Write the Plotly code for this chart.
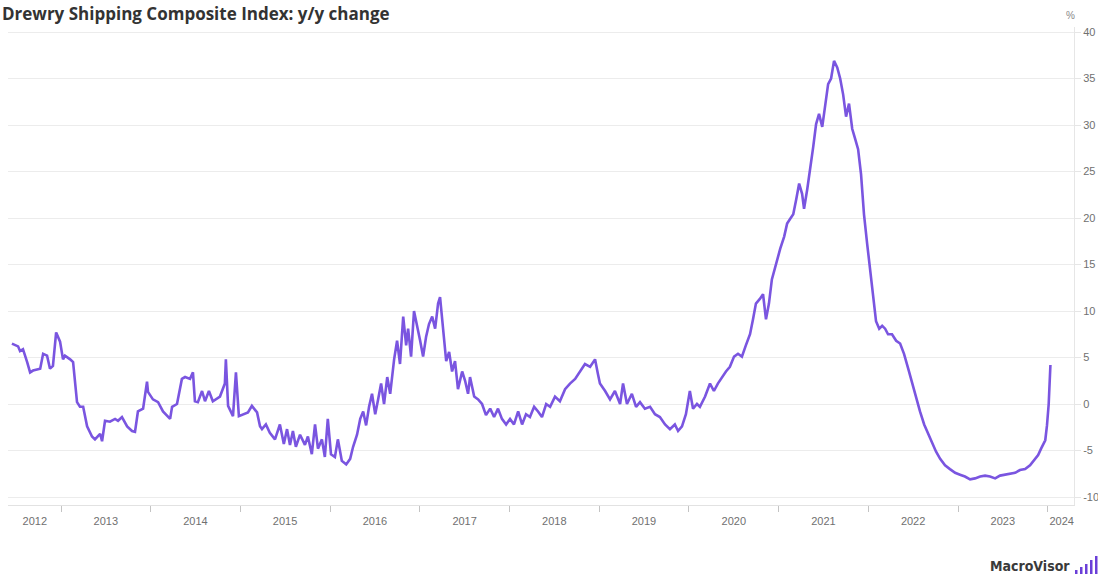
import plotly.graph_objects as go

# Drewry shipping composite index, year-over-year change (%)
dates = [
    "2012-06-15", "2012-07-10", "2012-07-18", "2012-07-30", "2012-08-16", "2012-08-28",
    "2012-09-09", "2012-10-08", "2012-10-20", "2012-11-05", "2012-11-17", "2012-11-29",
    "2012-12-12", "2012-12-28", "2013-01-09", "2013-01-17", "2013-02-07", "2013-02-19",
    "2013-03-07", "2013-03-19", "2013-04-01", "2013-04-17", "2013-05-07", "2013-05-19",
    "2013-06-09", "2013-06-17", "2013-06-29", "2013-07-19", "2013-08-09", "2013-08-21",
    "2013-09-06", "2013-09-27", "2013-10-17", "2013-10-29", "2013-11-10", "2013-12-01",
    "2013-12-17", "2013-12-21", "2014-01-10", "2014-01-31", "2014-02-20", "2014-03-21",
    "2014-03-29", "2014-04-18", "2014-05-08", "2014-05-21", "2014-06-10", "2014-06-22",
    "2014-06-30", "2014-07-12", "2014-07-29", "2014-08-10", "2014-08-26", "2014-09-11",
    "2014-10-10", "2014-10-30", "2014-11-03", "2014-11-12", "2014-12-02", "2014-12-14",
    "2014-12-26", "2015-01-12", "2015-02-01", "2015-02-17", "2015-03-10", "2015-03-22",
    "2015-03-30", "2015-04-15", "2015-05-01", "2015-05-22", "2015-06-11", "2015-06-27",
    "2015-07-10", "2015-07-22", "2015-08-03", "2015-08-15", "2015-09-01", "2015-09-21",
    "2015-10-03", "2015-10-19", "2015-11-01", "2015-11-13", "2015-11-29", "2015-12-11",
    "2015-12-23", "2016-01-05", "2016-01-21", "2016-02-02", "2016-02-18", "2016-03-07",
    "2016-03-23", "2016-04-04", "2016-04-20", "2016-05-03", "2016-05-15", "2016-05-27",
    "2016-06-08", "2016-06-20", "2016-07-03", "2016-07-15", "2016-07-27", "2016-08-08",
    "2016-08-21", "2016-09-02", "2016-09-18", "2016-09-30", "2016-10-12", "2016-10-25",
    "2016-11-06", "2016-11-14", "2016-11-26", "2016-12-08", "2016-12-21", "2017-01-02",
    "2017-01-14", "2017-01-26", "2017-02-07", "2017-02-20", "2017-03-04", "2017-03-16",
    "2017-03-24", "2017-04-05", "2017-04-18", "2017-04-30", "2017-05-12", "2017-05-24",
    "2017-06-05", "2017-06-22", "2017-07-04", "2017-07-16", "2017-07-24", "2017-08-10",
    "2017-08-26", "2017-09-11", "2017-09-27", "2017-10-14", "2017-10-30", "2017-11-15",
    "2017-12-01", "2017-12-18", "2018-01-03", "2018-01-19", "2018-02-05", "2018-02-21",
    "2018-03-09", "2018-03-25", "2018-04-11", "2018-04-27", "2018-05-13", "2018-05-30",
    "2018-06-15", "2018-07-05", "2018-07-25", "2018-08-15", "2018-09-04", "2018-09-25",
    "2018-10-15", "2018-11-04", "2018-11-25", "2018-12-15", "2018-12-27", "2019-01-04",
    "2019-01-25", "2019-02-14", "2019-03-06", "2019-03-27", "2019-04-08", "2019-04-24",
    "2019-05-14", "2019-05-31", "2019-06-16", "2019-07-06", "2019-07-27", "2019-08-16",
    "2019-09-05", "2019-09-26", "2019-10-16", "2019-11-05", "2019-11-18", "2019-12-04",
    "2019-12-20", "2020-01-05", "2020-01-18", "2020-02-03", "2020-02-15", "2020-03-07",
    "2020-03-27", "2020-04-12", "2020-04-28", "2020-05-15", "2020-05-31", "2020-06-16",
    "2020-07-03", "2020-07-19", "2020-08-04", "2020-08-20", "2020-09-06", "2020-09-18",
    "2020-09-30", "2020-10-16", "2020-10-29", "2020-11-10", "2020-11-22", "2020-12-04",
    "2020-12-20", "2021-01-07", "2021-01-23", "2021-02-04", "2021-02-16", "2021-03-01",
    "2021-03-13", "2021-03-25", "2021-04-06", "2021-04-14", "2021-04-27", "2021-05-09",
    "2021-05-21", "2021-06-02", "2021-06-14", "2021-06-27", "2021-07-09", "2021-07-21",
    "2021-08-02", "2021-08-14", "2021-08-27", "2021-09-08", "2021-09-20", "2021-10-02",
    "2021-10-14", "2021-10-27", "2021-11-08", "2021-11-20", "2021-12-02", "2021-12-14",
    "2021-12-27", "2022-01-08", "2022-01-20", "2022-02-01", "2022-02-14", "2022-02-26",
    "2022-03-10", "2022-03-22", "2022-04-07", "2022-04-24", "2022-05-10", "2022-05-26",
    "2022-06-12", "2022-06-28", "2022-07-14", "2022-07-30", "2022-08-16", "2022-09-01",
    "2022-09-17", "2022-10-03", "2022-10-20", "2022-11-09", "2022-11-29", "2022-12-20",
    "2023-01-09", "2023-01-29", "2023-02-19", "2023-03-11", "2023-04-01", "2023-04-21",
    "2023-05-11", "2023-06-01", "2023-06-21", "2023-07-11", "2023-08-01", "2023-08-21",
    "2023-09-10", "2023-10-01", "2023-10-21", "2023-11-10", "2023-11-23", "2023-12-05",
    "2023-12-15", "2023-12-22", "2023-12-29", "2024-01-05", "2024-01-12",
]

yoy_change = [
    6.5, 6.2, 5.7, 5.9, 4.5, 3.4,
    3.6, 3.8, 5.4, 5.2, 3.8, 4.1,
    7.7, 6.7, 4.8, 5.2, 4.8, 4.5,
    0.2, -0.3, -0.3, -2.4, -3.5, -3.8,
    -3.2, -4.0, -1.8, -1.9, -1.6, -1.8,
    -1.4, -2.4, -2.9, -3.0, -0.8, -0.5,
    2.4, 1.3, 0.5, 0.2, -0.8, -1.6,
    -0.3, 0.0, 2.7, 2.9, 2.7, 3.4,
    0.3, 0.2, 1.4, 0.3, 1.4, 0.3,
    0.8, 2.2, 4.8, -0.2, -1.3, 3.4,
    -1.3, -1.1, -0.9, -0.2, -0.9, -2.4,
    -2.7, -2.2, -3.1, -3.8, -2.2, -4.3,
    -2.7, -4.4, -2.9, -4.6, -3.3, -4.4,
    -3.5, -5.4, -2.2, -4.8, -3.8, -5.7,
    -1.6, -5.4, -5.7, -3.8, -6.1, -6.5,
    -5.9, -4.6, -3.3, -1.6, -0.8, -2.3,
    -0.3, 1.1, -1.1, 0.5, 2.2, 0.0,
    2.9, 1.1, 4.8, 6.8, 4.3, 9.4,
    6.3, 8.1, 5.1, 10.0, 8.1, 6.8,
    5.1, 7.2, 8.6, 9.4, 8.1, 10.8,
    11.5, 8.1, 4.6, 5.6, 3.5, 4.6,
    1.6, 3.5, 2.5, 1.1, 2.9, 0.8,
    0.5, 0.0, -1.2, -0.5, -1.4, -0.5,
    -1.6, -2.2, -1.6, -2.2, -0.8, -2.2,
    -1.1, -1.4, -0.3, -0.8, -1.4, 0.0,
    -0.3, 0.8, 0.3, 1.6, 2.2, 2.7,
    3.5, 4.3, 4.0, 4.8, 3.2, 2.2,
    1.4, 0.5, 1.4, 0.0, 2.2, 0.0,
    1.1, -0.3, 0.2, -0.5, -0.3, -1.1,
    -1.4, -2.2, -2.7, -2.2, -2.9, -2.4,
    -1.1, 1.4, -0.5, 0.0, -0.3, 0.8,
    2.2, 1.4, 2.2, 2.9, 3.5, 4.0,
    5.1, 5.4, 5.1, 6.3, 7.5, 9.1,
    10.8, 11.3, 11.8, 9.1, 10.8, 13.4,
    15.1, 16.7, 18.0, 19.4, 19.9, 20.4,
    22.0, 23.7, 22.6, 21.0, 23.1, 25.1,
    27.6, 30.1, 31.2, 29.8, 32.3, 34.4,
    35.0, 36.9, 36.2, 35.0, 33.3, 30.9,
    32.3, 29.6, 28.5, 27.4, 24.7, 20.4,
    17.2, 14.5, 11.3, 8.9, 8.1, 8.4,
    8.1, 7.5, 7.5, 6.8, 6.5, 5.4,
    3.8, 2.2, 0.5, -0.8, -2.2, -3.2,
    -4.3, -5.1, -5.9, -6.6, -7.0, -7.4,
    -7.6, -7.8, -8.1, -8.0, -7.8, -7.7,
    -7.8, -8.0, -7.7, -7.6, -7.5, -7.4,
    -7.1, -7.0, -6.6, -6.0, -5.5, -4.8,
    -4.3, -3.9, -2.3, 0.0, 4.2,
]

# Year boundaries (tick marks) and year labels placed mid-period
year_starts = [f"{y}-01-01" for y in range(2013, 2025)]
year_labels = [str(y) for y in range(2012, 2025)]
label_dates = ["2012-09-16"] + [f"{y}-07-02" for y in range(2013, 2024)] + ["2024-02-27"]

y_ticks = [-10, -5, 0, 5, 10, 15, 20, 25, 30, 35, 40]
y_tick_text = [str(v) for v in y_ticks]

x_range = ["2012-05-30", "2024-04-17"]
y_range = [-10.86, 40.54]

# plot-area geometry in pixels
W, H = 1098, 583
ML, MR, MT, MB = 8, 24, 27, 78
PW, PH = W - ML - MR, H - MT - MB


def px(x):
    return (x - ML) / PW


def py(y):
    return (H - MB - y) / PH


LINE_COLOR = "#7a55e0"
GRID = "#ececec"
TICK_FONT = dict(family="Liberation Sans Narrow, Liberation Sans, sans-serif", size=11, color="#707070")

fig = go.Figure()
fig.add_trace(go.Scatter(
    x=dates, y=yoy_change, mode="lines",
    line=dict(color=LINE_COLOR, width=2.6),
    hoverinfo="x+y", showlegend=False,
))

fig.update_layout(
    width=W, height=H,
    margin=dict(l=ML, r=MR, t=MT, b=MB),
    paper_bgcolor="white", plot_bgcolor="white",
    xaxis=dict(
        type="date", range=x_range, automargin=False,
        tickmode="array", tickvals=label_dates, ticktext=year_labels,
        ticks="", showgrid=False, zeroline=False,
        showline=True, linecolor="#e2e2e2", linewidth=1,
        tickfont=TICK_FONT, ticklabelstandoff=6,
        minor=dict(tickmode="array", tickvals=year_starts, ticks="outside",
                   ticklen=6, tickcolor="#c4c4c4", tickwidth=1, showgrid=False),
    ),
    yaxis=dict(
        side="right", range=y_range, automargin=False,
        tickmode="array", tickvals=y_ticks, ticktext=y_tick_text,
        ticks="outside", ticklen=6, tickcolor="#e6e6e6",
        showgrid=True, gridcolor=GRID, gridwidth=1, zeroline=False,
        showline=True, linecolor="#e6e6e6", linewidth=1,
        tickfont=TICK_FONT,
    ),
    annotations=[
        dict(text="<b>Drewry Shipping Composite Index: y/y change</b>",
             xref="paper", yref="paper", x=px(0), y=py(0),
             xanchor="left", yanchor="top", showarrow=False,
             font=dict(family="Open Sans, sans-serif", size=17, color="#333333")),
        dict(text="%", xref="paper", yref="paper", x=px(1070), y=py(15),
             xanchor="center", yanchor="middle", showarrow=False,
             font=dict(family="Liberation Sans, sans-serif", size=10, color="#888888")),
        dict(text="<b>MacroVisor</b>", xref="paper", yref="paper",
             x=px(1072), y=py(566),
             xanchor="right", yanchor="middle", showarrow=False,
             font=dict(family="Liberation Sans Narrow, DejaVu Sans Condensed, sans-serif",
                       size=14, color="#3a3a3a")),
    ],
)

# Small bar-chart glyph next to the brand name
bar_left = [1075, 1080, 1085, 1090, 1095]
bar_height = [4, 7, 10, 14, 18]
for bx, bh in zip(bar_left, bar_height):
    fig.add_shape(type="rect", xref="paper", yref="paper",
                  x0=px(bx), x1=px(bx + 2.5),
                  y0=py(574), y1=py(574 - bh),
                  fillcolor="#6a3fd8", line=dict(width=0))

fig.write_html("out.html")
